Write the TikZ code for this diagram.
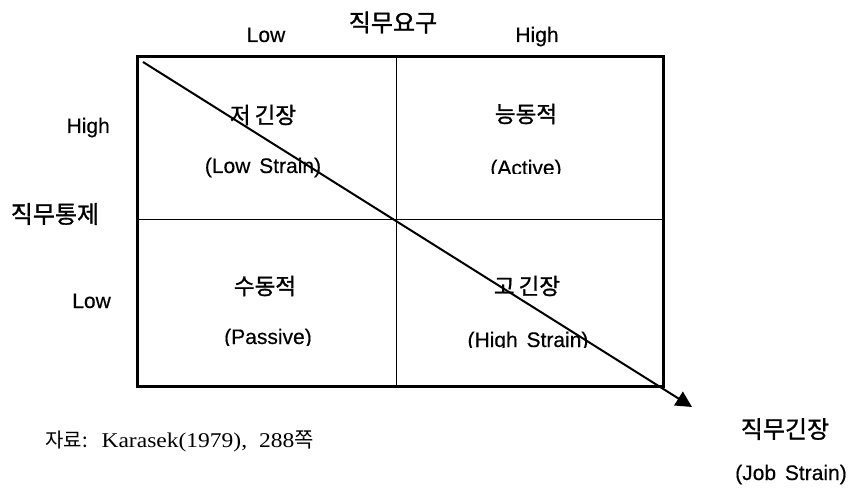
\documentclass[tikz,border=0pt]{standalone}
\usepackage{fontspec}
\setmainfont{Liberation Sans}[FakeBold=0.4]
\newfontfamily\krfont{Noto Sans CJK KR}[FakeBold=1.2]
\newfontfamily\krsrc{Noto Sans CJK KR}
\newfontfamily\latserif{Liberation Serif}[FakeStretch=1.12]
\usetikzlibrary{arrows.meta}
\begin{document}
\begin{tikzpicture}[x=1pt,y=-1pt,
  lat/.style={font=\fontsize{21}{21}\selectfont, inner sep=0pt},
  kor/.style={font=\krfont\fontsize{22.5}{22.5}\selectfont, inner sep=0pt},
  axiskor/.style={font=\krfont\fontsize{24}{24}\selectfont, inner sep=0pt},
  gridline/.style={line width=1pt},
  frameline/.style={line width=3pt},
  strainarrow/.style={line width=2pt, -{Triangle[length=16pt,width=16pt]}}]
\useasboundingbox (0,0) rectangle (864,494);

% axis labels
\node[lat, anchor=base] (dlow) at (266,42) {Low};
\node[axiskor] (demand) at (393,22.5) {직무요구};
\node[lat, anchor=base] (dhigh) at (537,42) {High};
\node[lat, anchor=base east] (chigh) at (110,133) {High};
\node[axiskor] (control) at (55,214) {직무통제};
\node[lat, anchor=base east] (clow) at (111,308) {Low};

% grid
\coordinate (tl) at (137,57);
\coordinate (br) at (663,386);
\coordinate (mt) at (396,57);
\coordinate (mb) at (396,386);
\coordinate (ml) at (137,220);
\coordinate (mr) at (663,220);
\draw[gridline] (mt) -- (mb);
\draw[gridline] (ml) -- (mr);
\draw[frameline] (tl) rectangle (br);

% cells
\node[kor] (lowK) at (263,115) {저\hspace{4pt}긴장};
\node[lat, anchor=base] (lowE) at (263,173) {(Low\hspace{3pt} Strain)};
\node[kor] (actK) at (526,114) {능동적};
\begin{scope}
  \clip (440,140) rectangle (620,173.5);
  \node[lat, anchor=base] (actE) at (526,175) {(Active)};
\end{scope}
\node[kor] (pasK) at (265,286) {수동적};
\begin{scope}
  \clip (180,310) rectangle (350,345);
  \node[lat, anchor=base] (pasE) at (268,344) {(Passive)};
\end{scope}
\node[kor] (highK) at (527,286) {고\hspace{4pt}긴장};
\begin{scope}
  \clip (440,310) rectangle (620,347);
  \node[lat, anchor=base] (highE) at (528,347) {(High\hspace{3pt} Strain)};
\end{scope}

% diagonal arrow
\coordinate (a0) at (143,62);
\coordinate (a1) at (692,407);
\draw[strainarrow] (a0) -- (a1);

% job strain label
\node[axiskor] (jsK) at (785,429) {직무긴장};
\node[lat, anchor=base] (jsE) at (791,480) {(Job\hspace{3pt} Strain)};

% source
\node[anchor=base west, inner sep=0pt] (src) at (45,447)
  {{\krsrc\fontsize{20}{20}\selectfont 자료:}\hspace{14pt}{\latserif\fontsize{21}{21}\selectfont Karasek(1979),\hspace{6pt} 288}{\krsrc\fontsize{21}{21}\selectfont 쪽}};
\end{tikzpicture}
\end{document}
